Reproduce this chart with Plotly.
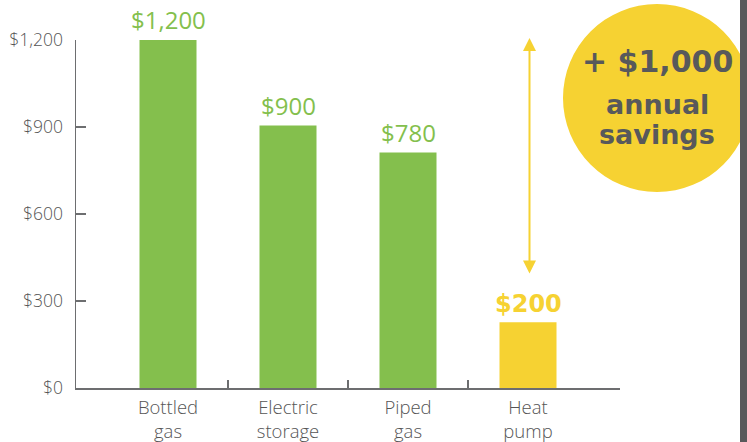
import plotly.graph_objects as go

categories = ["Bottled<br>gas", "Electric<br>storage", "Piped<br>gas", "Heat<br>pump"]
bar_values = [1200, 905, 812, 227]
bar_labels = ["$1,200", "$900", "$780", "$200"]
bar_colors = ["#84bf4d", "#84bf4d", "#84bf4d", "#f6d232"]
y_ticks = [0, 300, 600, 900, 1200]
y_tick_labels = ["$0", "$300", "$600", "$900", "$1,200"]
savings_text = "+ $1,000"
arrow_top = 1207
arrow_bottom = 390

GREEN = "#84bf4d"
YELLOW = "#f6d232"
GREY = "#58595b"
AXIS = "#6d6e70"
FONT = "Open Sans"
BOLD = "DejaVu Sans"

x_idx = list(range(len(categories)))

fig = go.Figure()
fig.add_trace(go.Bar(
    x=x_idx, y=bar_values, width=0.475,
    marker=dict(color=bar_colors, line=dict(width=0)),
    hoverinfo="skip",
))

# value labels above bars
for i, (v, lab) in enumerate(zip(bar_values, bar_labels)):
    is_hp = i == len(bar_values) - 1
    if is_hp:
        f = dict(family=BOLD, size=24, color=YELLOW, weight="bold")
    else:
        f = dict(family=FONT, size=24, color=GREEN)
    fig.add_annotation(
        x=i, y=v, text=lab, showarrow=False, yanchor="bottom", yshift=2, font=f,
    )

# double-headed arrow
fig.add_annotation(
    x=3, y=arrow_top, ax=3, ay=arrow_bottom, xref="x", yref="y", axref="x", ayref="y",
    showarrow=True, arrowhead=2, startarrowhead=2, arrowside="end+start",
    arrowsize=1.3, startarrowsize=1.3, arrowwidth=2, arrowcolor=YELLOW, text="",
    xshift=1.5,
)

# savings circle and dark side bar
fig.add_shape(type="circle", xref="paper", yref="paper",
              x0=0.8952, x1=1.2408, y0=0.5632, y1=1.1034,
              fillcolor=YELLOW, line=dict(width=0), layer="above")
fig.add_shape(type="rect", xref="paper", yref="paper",
              x0=(740 - 76) / 544, x1=(760 - 76) / 544, y0=-0.3, y1=1.3,
              fillcolor=GREY, line=dict(width=0), layer="above")

cx = (657 - 76) / 544
for txt, ypx, size in [(savings_text, 62, 30), ("annual", 104, 27), ("savings", 134, 27)]:
    fig.add_annotation(xref="paper", yref="paper", x=cx, y=(388 - ypx) / 348,
                       xanchor="center", yanchor="middle",
                       text=txt, showarrow=False,
                       font=dict(family=BOLD, size=size, color=GREY, weight="bold"))

fig.update_layout(
    width=747, height=442,
    margin=dict(l=76, r=127, t=40, b=54),
    paper_bgcolor="white", plot_bgcolor="white",
    showlegend=False,
    font=dict(family=FONT, color=GREY),
    xaxis=dict(
        range=[-0.7667, 3.7667], automargin=False,
        tickmode="array", tickvals=x_idx, ticktext=categories,
        ticks="", showgrid=False, zeroline=False,
        showline=True, linecolor=AXIS, linewidth=1.5,
        tickfont=dict(family=FONT, size=18.5, color="#555555", weight=300),
        ticklabelstandoff=2,
        minor=dict(tickmode="array", tickvals=[0.5, 1.5, 2.5], ticks="inside",
                   ticklen=8, tickcolor=AXIS, tickwidth=1.2, showgrid=False),
        fixedrange=True,
    ),
    yaxis=dict(
        range=[0, 1200], automargin=False,
        tickmode="array", tickvals=y_ticks, ticktext=y_tick_labels,
        ticks="inside", ticklen=10, tickcolor=AXIS, tickwidth=1.2,
        showgrid=False, zeroline=False,
        showline=True, linecolor=AXIS, linewidth=1.5,
        tickfont=dict(family=FONT, size=17.5, color="#555555", weight=300),
        ticklabelstandoff=8,
        fixedrange=True,
    ),
)

fig.write_html("out.html", config={"displayModeBar": False, "staticPlot": True},
               post_script="document.body.style.margin='0px';")
